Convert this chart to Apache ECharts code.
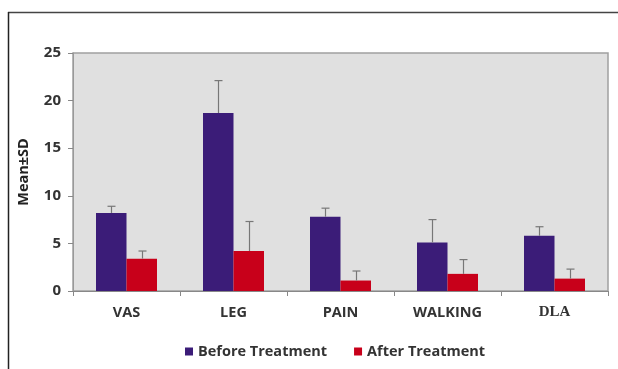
<!DOCTYPE html>
<html>
<head>
<meta charset="utf-8">
<script src="https://cdn.jsdelivr.net/npm/echarts@6/dist/echarts.min.js"></script>
<style>
  html, body { margin: 0; padding: 0; background: #fff; }
  #chart { width: 618px; height: 369px; }
</style>
</head>
<body>
<div id="chart"></div>
<script>
const categories = ['VAS', 'LEG', 'PAIN', 'WALKING', 'DLA'];
const beforeMean = [8.2, 18.7, 7.8, 5.1, 5.8];
const beforeSD = [0.7, 3.4, 0.9, 2.4, 0.95];
const afterMean = [3.4, 4.2, 1.1, 1.8, 1.3];
const afterSD = [0.8, 3.1, 1.0, 1.5, 1.0];
const yTicks = [0, 5, 10, 15, 20, 25];

const BAR_W = 30.5;

// error bar (upper only) drawn at an offset from category centre
function errorSeries(name, means, sds, offset) {
  return {
    type: 'custom',
    name: name + ' SD',
    z: 5,
    silent: true,
    data: means.map((m, i) => [i, m, m + sds[i]]),
    renderItem(params, api) {
      const lo = api.coord([api.value(0), api.value(1)]);
      const hi = api.coord([api.value(0), api.value(2)]);
      const x = Math.round(lo[0] + offset) + 0.5;
      const style = { stroke: '#777', lineWidth: 1.2 };
      return {
        type: 'group',
        children: [
          { type: 'line', shape: { x1: x, y1: lo[1], x2: x, y2: hi[1] }, style },
          { type: 'line', shape: { x1: x - 4, y1: hi[1], x2: x + 4, y2: hi[1] }, style }
        ]
      };
    }
  };
}

const chart = echarts.init(document.getElementById('chart'), null, { renderer: 'canvas' });
chart.setOption({
  animation: false,
  textStyle: { fontFamily: 'Open Sans' },
  grid: {
    left: 73, right: 10, top: 53, bottom: 78,
    show: true, backgroundColor: '#e0e0e0', borderColor: '#a0a0a0', borderWidth: 1.5
  },
  legend: {
    bottom: 5,
    left: 180,
    itemWidth: 8, itemHeight: 8, itemGap: 27,
    icon: 'rect',
    data: ['Before Treatment', 'After Treatment'],
    textStyle: { fontSize: 14.5, fontWeight: 'bold', color: '#333', fontFamily: 'Open Sans' }
  },
  xAxis: {
    type: 'category',
    data: categories,
    axisLine: { lineStyle: { color: '#888', width: 1.2 } },
    axisTick: { show: true, length: 5, inside: false, lineStyle: { color: '#888' } },
    axisLabel: {
      margin: 14,
      fontSize: 14.5,
      fontWeight: 'bold',
      color: '#333',
      rich: {
        serif: { fontFamily: 'Liberation Serif', fontWeight: 'bold', fontSize: 15, color: '#333' }
      },
      formatter: v => v === 'DLA' ? '{serif|' + v + '}' : v
    }
  },
  yAxis: {
    type: 'value',
    min: yTicks[0], max: yTicks[yTicks.length - 1], interval: 5,
    name: 'Mean±SD',
    nameLocation: 'middle',
    nameGap: 42,
    nameTextStyle: { fontSize: 14.5, fontWeight: 'bold', color: '#222' },
    axisLine: { show: true, lineStyle: { color: '#999', width: 1 } },
    axisTick: { show: true, length: 5, lineStyle: { color: '#888' } },
    axisLabel: { margin: 12, fontSize: 15, fontWeight: 'bold', color: '#333' },
    splitLine: { show: false }
  },
  series: [
    {
      name: 'Before Treatment', type: 'bar', data: beforeMean,
      barWidth: BAR_W, barGap: 0,
      itemStyle: { color: '#3b1c78' }
    },
    {
      name: 'After Treatment', type: 'bar', data: afterMean,
      barWidth: BAR_W, barGap: 0,
      itemStyle: { color: '#c8001a' }
    },
    errorSeries('Before Treatment', beforeMean, beforeSD, -BAR_W / 2),
    errorSeries('After Treatment', afterMean, afterSD, BAR_W / 2)
  ],
  graphic: [
    { type: 'line', shape: { x1: 8, y1: 12.5, x2: 618, y2: 12.5 }, style: { stroke: '#444', lineWidth: 1.5 } },
    { type: 'line', shape: { x1: 8.5, y1: 12, x2: 8.5, y2: 369 }, style: { stroke: '#222', lineWidth: 1.5 } }
  ]
});
</script>
</body>
</html>
